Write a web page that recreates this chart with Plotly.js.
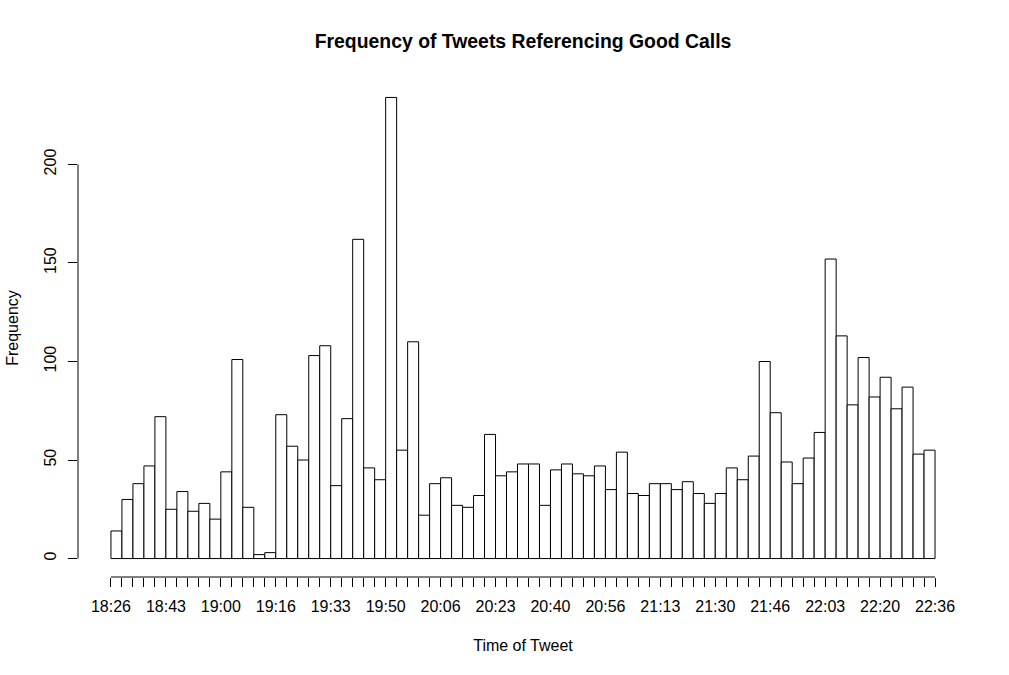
<!DOCTYPE html>
<html>
<head>
<meta charset="utf-8">
<script src="https://cdn.plot.ly/plotly-3.0.1.min.js"></script>
<style>
  body { margin: 0; background: #ffffff; }
  #chart { width: 1009px; height: 675px; }
</style>
</head>
<body>
<div id="chart"></div>
<script>
// tweets per 200-second bin, 18:26 to 22:36
const counts = [
    14, 30, 38, 47, 72, 25, 34, 24, 28, 20,
    44, 101, 26, 2, 3, 73, 57, 50, 103, 108,
    37, 71, 162, 46, 40, 234, 55, 110, 22, 38,
    41, 27, 26, 32, 63, 42, 44, 48, 48, 27,
    45, 48, 43, 42, 47, 35, 54, 33, 32, 38,
    38, 35, 39, 33, 28, 33, 46, 40, 52, 100,
    74, 49, 38, 51, 64, 152, 113, 78, 102, 82,
    92, 76, 87, 53, 55
];
const timeLabels = ["18:26", "18:43", "19:00", "19:16", "19:33", "19:50", "20:06", "20:23",
                    "20:40", "20:56", "21:13", "21:30", "21:46", "22:03", "22:20", "22:36"];
const yTicks = [0, 50, 100, 150, 200];

const binMinutes = 200 / 60;   // minutes since 18:26
const labelEvery = 5;

const centers = counts.map((c, i) => (i + 0.5) * binMinutes);
const edges = [];
const edgeText = [];
for (let i = 0; i <= counts.length; i++) {
    edges.push(i * binMinutes);
    edgeText.push(i % labelEvery === 0 ? timeLabels[i / labelEvery] : "");
}
const xMax = edges[edges.length - 1];
const yMax = Math.max(...counts);

const axisFont = {family: "Liberation Sans, Arial, sans-serif", size: 16, color: "#000000"};

const histData = [{
    type: "bar",
    x: centers,
    y: counts,
    width: binMinutes,
    marker: {
        color: "#ffffff",
        line: {color: "#000000", width: 1}
    },
    hoverinfo: "y"
}];

const layout = {
    width: 1009,
    height: 675,
    paper_bgcolor: "#ffffff",
    plot_bgcolor: "#ffffff",
    showlegend: false,
    margin: {l: 78, r: 41, t: 79, b: 98},
    title: {
        text: "<b>Frequency of Tweets Referencing Good Calls</b>",
        font: {family: "Liberation Sans, Arial, sans-serif", size: 19.4, color: "#000000"},
        x: 0.5, xref: "paper", xanchor: "center",
        y: 1 - 41 / 675, yanchor: "middle"
    },
    xaxis: {
        range: [-0.04 * xMax, 1.04 * xMax],
        tickmode: "array",
        tickvals: edges,
        ticktext: edgeText,
        ticks: "outside",
        ticklen: 9,
        tickcolor: "#000000",
        tickwidth: 1,
        ticklabelstandoff: 6,
        showgrid: false,
        zeroline: false,
        showline: false,
        tickfont: axisFont,
        automargin: false,
        title: {text: "Time of Tweet", font: axisFont, standoff: 25}
    },
    yaxis: {
        range: [-0.04 * yMax, 1.04 * yMax],
        tickmode: "array",
        tickvals: yTicks,
        ticks: "outside",
        ticklen: 9,
        tickcolor: "#000000",
        tickwidth: 1,
        tickangle: -90,
        ticklabelstandoff: 6,
        showgrid: false,
        zeroline: false,
        showline: false,
        tickfont: axisFont,
        automargin: false,
        title: {text: "Frequency", font: axisFont, standoff: 18}
    },
    shapes: [
        {type: "line", xref: "paper", yref: "y", x0: 0, x1: 0, y0: 0, y1: 200,
         line: {color: "#000000", width: 1}},
        {type: "line", xref: "x", yref: "paper", x0: 0, x1: xMax, y0: 0, y1: 0,
         line: {color: "#000000", width: 1}}
    ]
};

Plotly.newPlot("chart", histData, layout, {displayModeBar: false, staticPlot: true});
</script>
</body>
</html>
